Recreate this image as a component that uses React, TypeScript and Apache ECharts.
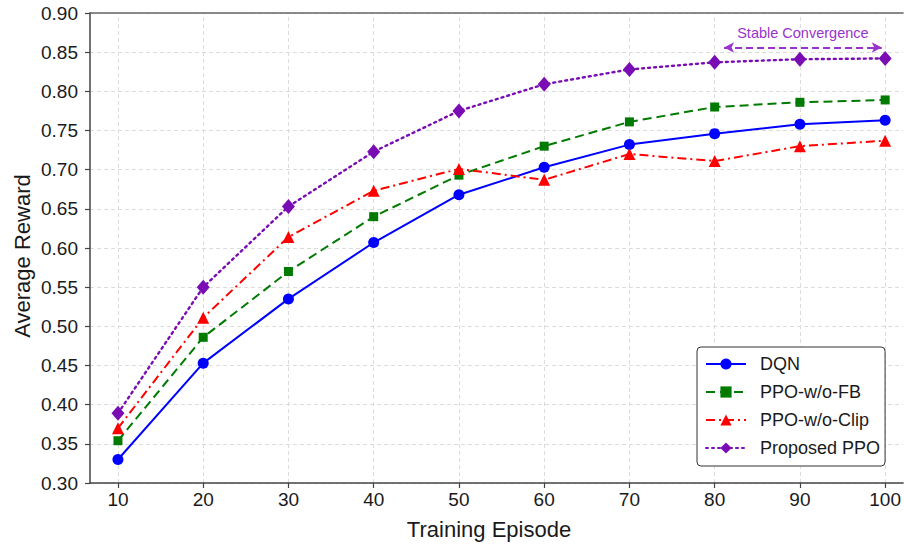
import React, { useEffect, useRef } from "react";
import * as echarts from "echarts";

const episodes = [10, 20, 30, 40, 50, 60, 70, 80, 90, 100];
const dqn = [0.33, 0.453, 0.535, 0.607, 0.668, 0.703, 0.732, 0.746, 0.758, 0.763];
const ppoNoFB = [0.354, 0.486, 0.57, 0.64, 0.693, 0.73, 0.761, 0.78, 0.786, 0.789];
const ppoNoClip = [0.37, 0.511, 0.614, 0.673, 0.701, 0.687, 0.72, 0.711, 0.73, 0.737];
const proposed = [0.389, 0.55, 0.653, 0.723, 0.775, 0.809, 0.828, 0.837, 0.841, 0.842];
const seriesNames = ["DQN", "PPO-w/o-FB", "PPO-w/o-Clip", "Proposed PPO"];
const annotationText = "Stable Convergence";
const annotationStart = [81.1, 0.856];
const annotationEnd = [99.6, 0.856];

const FONT = "Liberation Sans, Arial, sans-serif";

function pairs(vals: number[]) {
  return episodes.map((e, i) => [e, vals[i]]);
}

export default function App() {
  const ref = useRef<HTMLDivElement>(null);
  useEffect(() => {
    if (!ref.current) return;
    const chart = echarts.init(ref.current, undefined, { renderer: "svg" });
    const option: any = {
      animation: false,
      backgroundColor: "#ffffff",
      textStyle: { fontFamily: FONT },
      grid: { left: 90, top: 13, right: 0, bottom: 65, containLabel: false },
      legend: {
        data: seriesNames,
        orient: "vertical",
        left: 697,
        top: 347,
        itemWidth: 40,
        itemHeight: 14,
        itemGap: 10,
        padding: [8, 5, 9, 8],
        borderColor: "#333",
        borderWidth: 1,
        borderRadius: 4,
        backgroundColor: "#ffffff",
        textStyle: { fontSize: 18, color: "#1a1a1a", fontFamily: FONT, padding: [0, 0, 0, 9] },
      },
      xAxis: [
        {
          type: "value",
          min: 6.72,
          max: 102.1,
          axisLine: { show: true, lineStyle: { color: "#444", width: 1.5 } },
          axisTick: {
            show: true,
            customValues: episodes,
            length: 5,
            lineStyle: { color: "#444", width: 1.2 },
          },
          axisLabel: {
            customValues: episodes,
            fontSize: 19,
            color: "#1a1a1a",
            margin: 7,
            fontFamily: FONT,
          },
          splitLine: { show: false },
        },
        {
          type: "value",
          position: "top",
          min: 6.72,
          max: 102.1,
          axisLine: { show: true, lineStyle: { color: "#666", width: 1.5 } },
          axisTick: { show: false },
          axisLabel: { show: false },
          splitLine: { show: false },
        },
      ],
      yAxis: {
        type: "value",
        min: 0.3,
        max: 0.9,
        interval: 0.05,
        axisLine: { show: true, lineStyle: { color: "#444", width: 1.5 } },
        axisTick: { show: true, length: 5, lineStyle: { color: "#444", width: 1.2 } },
        axisLabel: {
          fontSize: 19,
          color: "#1a1a1a",
          margin: 12,
          fontFamily: FONT,
          formatter: (v: number) => v.toFixed(2),
        },
        splitLine: { show: true, lineStyle: { color: "#dcdcdc", type: [4, 3], width: 1 } },
      },
      graphic: [
        {
          type: "text",
          x: 489,
          y: 529,
          style: {
            text: "Training Episode",
            fontSize: 22,
            fill: "#1a1a1a",
            fontFamily: FONT,
            align: "center",
            verticalAlign: "middle",
          },
        },
        {
          type: "text",
          x: 22,
          y: 256,
          rotation: Math.PI / 2,
          style: {
            text: "Average Reward",
            fontSize: 22,
            fill: "#1a1a1a",
            fontFamily: FONT,
            align: "center",
            verticalAlign: "middle",
          },
        },
      ],
      series: [
        {
          name: "gridlines",
          type: "line",
          data: [],
          silent: true,
          z: 0,
          markLine: {
            silent: true,
            z: 0,
            symbol: ["none", "none"],
            label: { show: false },
            lineStyle: { color: "#dcdcdc", type: [4, 3], width: 1 },
            data: episodes.map((e) => ({ xAxis: e })),
          },
        },
        {
          name: seriesNames[0],
          type: "line",
          data: pairs(dqn),
          z: 3,
          color: "#0000ff",
          symbol: "circle",
          symbolSize: 11,
          lineStyle: { width: 2, type: "solid", color: "#0000ff" },
          itemStyle: { color: "#0000ff" },
        },
        {
          name: seriesNames[1],
          type: "line",
          data: pairs(ppoNoFB),
          z: 3,
          color: "#007a00",
          symbol: "rect",
          symbolSize: 9,
          lineStyle: { width: 2, type: [9, 5], color: "#007a00" },
          itemStyle: { color: "#007a00" },
        },
        {
          name: seriesNames[2],
          type: "line",
          data: pairs(ppoNoClip),
          z: 3,
          color: "#ff0000",
          symbol: "triangle",
          symbolSize: 12,
          lineStyle: { width: 2, type: [9, 4, 2, 4], color: "#ff0000" },
          itemStyle: { color: "#ff0000" },
        },
        {
          name: seriesNames[3],
          type: "line",
          data: pairs(proposed),
          z: 3,
          color: "#7a0cb4",
          symbol: "diamond",
          symbolSize: [13, 15],
          lineStyle: { width: 2.4, type: [2, 4], cap: "round", color: "#7a0cb4" },
          itemStyle: { color: "#7a0cb4" },
          markLine: {
            silent: true,
            symbol: ["arrow", "arrow"],
            symbolSize: [8, 10],
            lineStyle: { color: "#9932cc", type: [7, 4], width: 1.8 },
            label: {
              show: true,
              position: "middle",
              formatter: annotationText,
              color: "#9932cc",
              fontSize: 14.5,
              fontFamily: FONT,
              distance: 7,
            },
            data: [[{ coord: annotationStart }, { coord: annotationEnd }]],
          },
        },
      ],
    };
    chart.setOption(option);
    return () => chart.dispose();
  }, []);
  return (
    <div
      ref={ref}
      style={{ position: "fixed", left: 0, top: 0, width: 904, height: 548, background: "#fff" }}
    />
  );
}
